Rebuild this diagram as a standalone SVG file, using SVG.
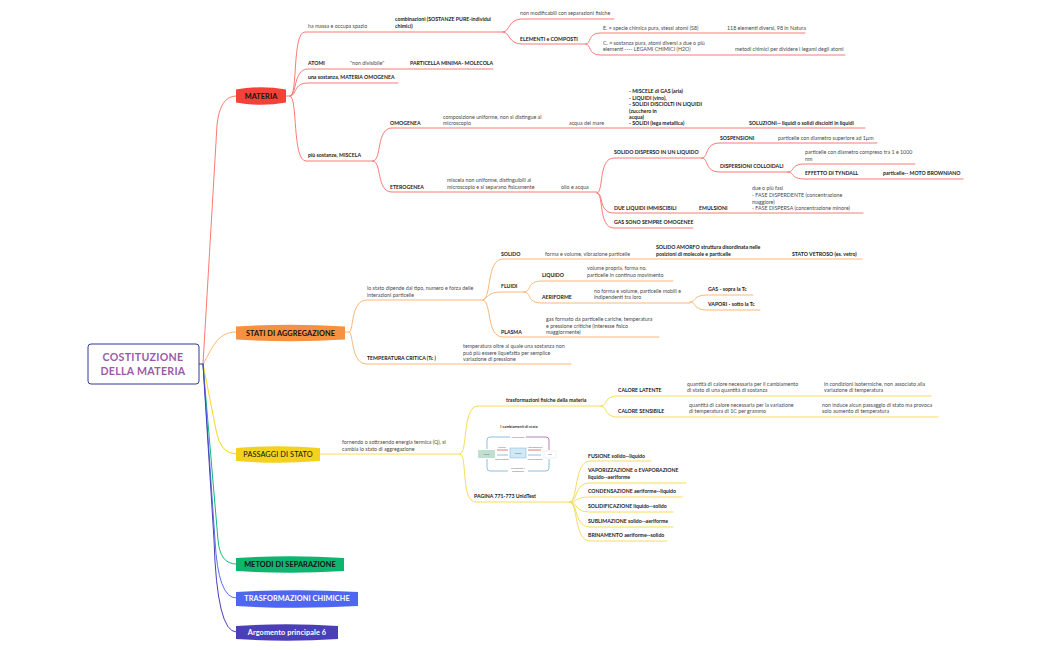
<svg xmlns="http://www.w3.org/2000/svg" width="1050" height="650" viewBox="0 0 1050 650">
<style>
text{font-family:"Lato","Noto Sans","Liberation Sans",sans-serif;font-size:5.3px;fill:#4a4a4a}
.b{font-weight:700;fill:#222;font-size:5.2px}
.t{font-weight:700;font-size:7.3px;fill:#111;text-anchor:middle;letter-spacing:.1px}
.w{fill:#fff}
.r{fill:#9b5aa8;font-size:10.6px;font-weight:700;text-anchor:middle;letter-spacing:.3px}
#connectors path{fill:none;stroke-width:1;stroke-linecap:round}
.cr path{stroke:#fb7a74}.co path{stroke:#fbb778}.cy path{stroke:#f7dc5a}
.m{font-size:2.3px;fill:#666;text-anchor:middle}
</style>
<rect width="1050" height="650" fill="#fff"/>
<g id="connectors">
<g class="cr">
<path d="M203 364L217 125Q220 96 236 96"/>
<path d="M286 96H290C298 96 292 32 305 32H503"/>
<path d="M290 96C297 96 293 69 308 69H493"/>
<path d="M290 96C297 96 293 83 308 83H398"/>
<path d="M290 96C298 96 292 161 306 161H373"/>
<path d="M503 32C510 32 508 19 522 19H614"/>
<path d="M503 32C510 32 508 44 522 44H586"/>
<path d="M586 44C591 44 588 33 600 33H805"/>
<path d="M586 44C591 44 588 55 600 55H845"/>
<path d="M373 161C382 161 376 128 392 128H865"/>
<path d="M373 161C382 161 376 192 392 192H597"/>
<path d="M597 193C604 193 598 158 614 158H702"/>
<path d="M597 193C604 193 598 213 614 213H863"/>
<path d="M597 193C604 193 598 228 614 228H693"/>
<path d="M702 158C709 158 704 143 720 143H877"/>
<path d="M702 158C709 158 704 172 720 172H788"/>
<path d="M788 172C795 172 790 164 805 164H915"/>
<path d="M788 172C795 172 790 179 805 179H963"/>
</g>
<g class="co">
<path d="M203 364C212 350 216 332 236 332"/>
<path d="M345 332H349C354 332 350 300 367 300H483"/>
<path d="M349 332C354 332 350 364 367 364H571"/>
<path d="M483 300C492 298 486 259 503 259H862"/>
<path d="M483 300C490 296 488 292 503 292H524"/>
<path d="M483 300C492 302 486 337 503 337H659"/>
<path d="M524 292C532 292 526 281 542 281H673"/>
<path d="M524 292C532 292 526 303 542 303H690"/>
<path d="M690 302C697 302 692 295 708 295H753"/>
<path d="M690 302C697 302 692 310 708 310H760"/>
</g>
<g class="cy">
<path d="M203 364L216 430Q220 454 236 454" style="stroke:#f5d820"/>
<path d="M320 454H460"/>
<path d="M460 454C468 454 462 406 478 406H601"/>
<path d="M460 454C468 454 460 502 476 502H570"/>
<path d="M601 406C608 406 603 396 618 396H931"/>
<path d="M601 406C608 406 603 417 618 417H938"/>
<path d="M570 502C578 502 574 461 590 461H651"/>
<path d="M570 502C578 502 574 483 590 483H686"/>
<path d="M570 502C578 502 574 497 590 497H682"/>
<path d="M570 502C578 502 574 512 590 512H673"/>
<path d="M570 502C578 502 574 527 590 527H673"/>
<path d="M570 502C578 502 574 541 590 541H667"/>
</g>
<path d="M199 364H203" style="stroke:#2f3a8f"/>
<path d="M203 364L218 540Q220 564 236 564" style="stroke:#14b87a"/>
<path d="M203 364L215 540Q218 598 236 598" style="stroke:#5a70f2"/>
<path d="M203 364L214 540Q217 632 236 632" style="stroke:#4a3fb8"/>
</g>
<g id="root"><rect x="88" y="344" width="111" height="40" rx="3" fill="#fff" stroke="#2f3a8f" stroke-width="1"/><text class="r" x="143" y="360.500">COSTITUZIONE</text><text class="r" x="143" y="375">DELLA MATERIA</text></g>
<g id="materia"><path d="M236 89.500Q261 85 286 89.500V102.500Q261 107 236 102.500Z" fill="#f5413a"/><text class="t" x="261" y="98.700">MATERIA</text></g>
<g id="stati"><path d="M236 326.500Q290.500 323 345 326.500V339.500Q290.500 343 236 339.500Z" fill="#f59140"/><text class="t" x="290.500" y="335.700">STATI DI AGGREGAZIONE</text></g>
<g id="passaggi"><path d="M236 448Q278 444.500 320 448V461Q278 464.500 236 461Z" fill="#f2d21f"/><text class="t" x="278" y="457" style="font-weight:400">PASSAGGI DI STATO</text></g>
<g id="metodi"><path d="M236 558Q290 554.500 344 558V571Q290 574.500 236 571Z" fill="#0fb56f"/><text class="t" x="290" y="567">METODI DI SEPARAZIONE</text></g>
<g id="trasformazioni"><path d="M236 592Q297 588.500 358 592V606Q297 609.500 236 606Z" fill="#4f66f0"/><text class="t w" x="297" y="601">TRASFORMAZIONI CHIMICHE</text></g>
<g id="argomento"><path d="M236 626Q287 622.500 338 626V639Q287 642.500 236 639Z" fill="#4a3fb8"/><text class="t w" x="287" y="635">Argomento principale 6</text></g>
<g id="materia-text">
<text x="308" y="28">ha massa e occupa spazio</text>
<text class="b" x="395" y="21">combinazioni (SOSTANZE PURE-individui</text><text class="b" x="395" y="28">chimici)</text>
<text x="520" y="15">non modificabili con separazioni fisiche</text>
<text class="b" x="520" y="41">ELEMENTI e COMPOSTI</text>
<text x="603" y="30">E. = specie chimica pura, stessi atomi (S8)</text>
<text x="727" y="30">118 elementi diversi, 98 in Natura</text>
<text x="603" y="45">C. = sostanza pura, atomi diversi a due o più</text><text x="603" y="51">elementi ---- LEGAMI CHIMICI (H2O)</text>
<text x="735" y="51">metodi chimici per dividere i legami degli atomi</text>
<text class="b" x="308" y="65">ATOMI</text><text x="350" y="65">"non divisibile"</text><text class="b" x="410" y="65">PARTICELLA MINIMA- MOLECOLA</text>
<text class="b" x="308" y="79">una sostanza, MATERIA OMOGENEA</text>
<text class="b" x="308" y="157">più sostanze, MISCELA</text>
<text class="b" x="390" y="125">OMOGENEA</text><text class="b" x="390" y="189">ETEROGENEA</text>
<text x="443" y="119">composizione uniforme, non si distingue al</text><text x="443" y="125">microscopio</text>
<text x="447" y="182">miscela non uniforme, distinguibili al</text><text x="447" y="189">microscopio e si separano fisicamente</text>
<text x="569" y="125">acqua del mare</text>
<text class="b" x="629" y="93">- MISCELE di GAS (aria)</text><text class="b" x="629" y="99.500">- LIQUIDI (vino),</text><text class="b" x="629" y="106">- SOLIDI DISCIOLTI IN LIQUIDI</text><text class="b" x="629" y="112.500">(zucchero in</text><text class="b" x="629" y="119">acqua)</text><text class="b" x="629" y="125">- SOLIDI (lega metallica)</text>
<text class="b" x="749" y="125">SOLUZIONI-- liquidi o solidi disciolti in liquidi</text>
<text x="561" y="189">olio e acqua</text>
<text class="b" x="614" y="154">SOLIDO DISPERSO IN UN LIQUIDO</text>
<text class="b" x="720" y="140">SOSPENSIONI</text><text x="778" y="140">particelle con diametro superiore ad 1µm</text>
<text class="b" x="720" y="168">DISPERSIONI COLLOIDALI</text>
<text x="805" y="154">particelle con diametro compreso tra 1 e 1000</text><text x="805" y="161">nm</text>
<text class="b" x="805" y="175">EFFETTO DI TYNDALL</text><text class="b" x="883" y="175">particelle-- MOTO BROWNIANO</text>
<text x="752" y="190">due o più fasi</text><text x="752" y="197">- FASE DISPERDENTE (concentrazione</text><text x="752" y="203.500">maggiore)</text><text x="752" y="210">- FASE DISPERSA (concentrazione minore)</text>
<text class="b" x="614" y="209.500">DUE LIQUIDI IMMISCIBILI</text><text class="b" x="699" y="209.500">EMULSIONI</text>
<text class="b" x="614" y="224">GAS SONO SEMPRE OMOGENEE</text>
</g>
<g id="stati-text">
<text x="367" y="290">lo stato dipende dal tipo, numero e forza delle</text><text x="367" y="297">interazioni particelle</text>
<text class="b" x="501" y="256">SOLIDO</text><text x="545" y="256">forma e volume, vibrazione particelle</text>
<text class="b" x="656" y="249">SOLIDO AMORFO struttura disordinata nelle</text><text class="b" x="656" y="256">posizioni di molecole e particelle</text>
<text class="b" x="792" y="256">STATO VETROSO (es. vetro)</text>
<text class="b" x="501" y="288">FLUIDI</text>
<text class="b" x="542" y="277">LIQUIDO</text><text x="587" y="270">volume propria, forma no.</text><text x="587" y="277">particelle in continuo movimento</text>
<text class="b" x="542" y="299">AERIFORME</text><text x="594" y="293">no forma e volume, particelle mobili e</text><text x="594" y="299">indipendenti tra loro</text>
<text class="b" x="708" y="291">GAS - sopra la Tc</text><text class="b" x="708" y="306">VAPORI - sotto la Tc</text>
<text class="b" x="501" y="334">PLASMA</text>
<text x="546" y="321">gas formato da particelle cariche, temperatura</text><text x="546" y="327.500">e pressione critiche (interesse fisico</text><text x="546" y="334">maggiormente)</text>
<text class="b" x="367" y="360">TEMPERATURA CRITICA (Tc )</text>
<text x="463" y="348">temperatura oltre al quale una sostanza non</text><text x="463" y="354.500">può più essere liquefatta per semplice</text><text x="463" y="361">variazione di pressione</text>
</g>
<g id="passaggi-text">
<text x="342" y="444">fornendo o sottraendo energia termica (Q), si</text><text x="342" y="451">cambia lo stato di aggregazione</text>
<text class="b" x="506" y="402">trasformazioni fisiche della materia</text>
<text class="b" x="618" y="392">CALORE LATENTE</text><text x="687" y="386">quantità di calore necessaria per il cambiamento</text><text x="687" y="392">di stato di una quantità di sostanza</text>
<text x="824" y="386">in condizioni isotermiche, non associato alla</text><text x="824" y="392">variazione di temperatura</text>
<text class="b" x="618" y="413">CALORE SENSIBILE</text><text x="689" y="407">quantità di calore necessaria per la variazione</text><text x="689" y="413">di temperatura di 1C per grammo</text>
<text x="822" y="407">non induce alcun passaggio di stato ma provoca</text><text x="822" y="413">solo aumento di temperatura</text>
<text class="b" x="474" y="498">PAGINA 771-773 UnidTest</text>
<text class="b" x="588" y="457.500">FUSIONE solido--liquido</text>
<text class="b" x="588" y="472">VAPORIZZAZIONE o EVAPORAZIONE</text><text class="b" x="588" y="479">liquido--aeriforme</text>
<text class="b" x="588" y="493">CONDENSAZIONE aeriforme--liquido</text>
<text class="b" x="588" y="508">SOLIDIFICAZIONE liquido--solido</text>
<text class="b" x="588" y="523">SUBLIMAZIONE solido--aeriforme</text>
<text class="b" x="588" y="537">BRINAMENTO aeriforme--solido</text>
</g>
<g id="cambiamenti">
<text x="519" y="428" style="font-size:3.8px;font-weight:700;text-anchor:middle;fill:#333">I cambiamenti di stato</text>
<path d="M487 449V440Q487 437 490 437H510M526 437" fill="none" stroke="#8cc0e4" stroke-width="1"/>
<path d="M526 437H546Q549 437 549 440V450" fill="none" stroke="#b583b5" stroke-width="1"/>
<path d="M487 459V468Q487 471 490 471H508M528 471H546Q549 471 549 468V459" fill="none" stroke="#8cc0e4" stroke-width="1"/>
<rect x="478" y="450" width="17" height="8" fill="#bfe0d0"/>
<rect x="510" y="448" width="16" height="10" fill="#cfe9f5" stroke="#8cc0e4" stroke-width=".6"/>
<rect x="544" y="451" width="12" height="7" fill="#fff" stroke="#ddd" stroke-width=".4"/>
<path d="M497 450H508M528 450H541" stroke="#e4574c" stroke-width=".8"/>
<path d="M497 455H508M528 455H541" stroke="#6fb0dc" stroke-width=".8"/>
<text class="m" x="486.500" y="455">solido</text><text class="m" x="518" y="454">liquido</text><text class="m" x="550" y="455">gas</text>
<text class="m" x="518" y="438">sublimazione</text>
<text class="m" x="502" y="448">fusione</text><text class="m" x="535" y="448">vaporizzazione</text>
<text class="m" x="502" y="459.500">solidificazione</text><text class="m" x="535" y="459.500">condensazione</text>
<text class="m" x="518" y="469">brinamento e</text><text class="m" x="518" y="472">deposizione</text>
</g>
</svg>
